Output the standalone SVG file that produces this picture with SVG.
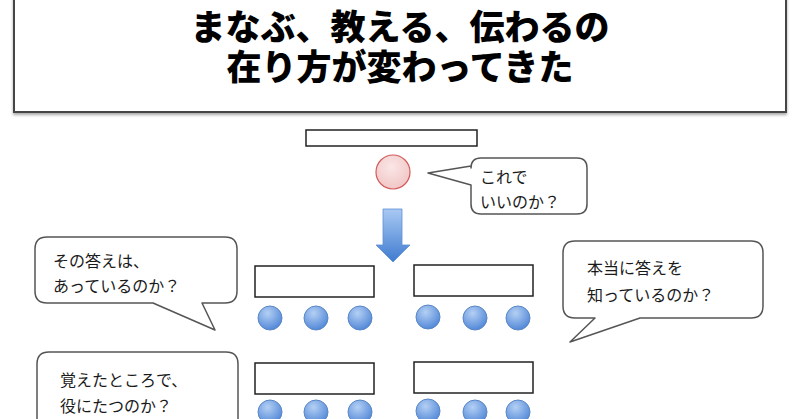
<svg xmlns="http://www.w3.org/2000/svg" width="800" height="419" viewBox="0 0 800 419">
<defs>
<radialGradient id="blueG" cx="0.4" cy="0.3" r="0.75">
<stop offset="0" stop-color="#b4d0f4"/>
<stop offset="1" stop-color="#4d84d6"/>
</radialGradient>
<radialGradient id="pinkG" cx="0.45" cy="0.35" r="0.7">
<stop offset="0" stop-color="#fbe6e6"/>
<stop offset="1" stop-color="#f0c4c4"/>
</radialGradient>
<linearGradient id="arrowG" x1="0" y1="0" x2="0" y2="1">
<stop offset="0" stop-color="#a9c9f3"/>
<stop offset="1" stop-color="#3f7bd0"/>
</linearGradient>
<filter id="sh" x="-5%" y="-5%" width="110%" height="120%">
<feGaussianBlur in="SourceAlpha" stdDeviation="1.5"/>
<feOffset dx="0" dy="2" result="b"/>
<feComponentTransfer><feFuncA type="linear" slope="0.35"/></feComponentTransfer>
<feMerge><feMergeNode/><feMergeNode in="SourceGraphic"/></feMerge>
</filter>
</defs>
<style>
.title{font-family:"Liberation Sans","Noto Sans CJK JP",sans-serif;font-weight:900;font-size:35px;fill:#000;text-anchor:middle}
.bt{font-family:"Noto Sans CJK JP","Noto Sans",sans-serif;font-size:16px;fill:#1a1a1a}
.bub{fill:#fff;stroke:#555;stroke-width:1.5;stroke-linejoin:round}
.desk{fill:#fff;stroke:#222;stroke-width:1.5}
.stu{fill:url(#blueG);stroke:#5a86c6;stroke-width:1}
</style>
<rect width="800" height="419" fill="#fff"/>
<g id="title">
<rect x="14" y="-5" width="772" height="117" fill="#fff" stroke="#444" stroke-width="2" filter="url(#sh)"/>
<text class="title"><tspan x="400" y="40">まなぶ、教える、伝わるの</tspan><tspan x="400" y="80">在り方が変わってきた</tspan></text>
</g>
<g id="teacher">
<rect class="desk" x="306" y="130" width="171" height="16"/>
<circle cx="393" cy="172" r="17" fill="url(#pinkG)" stroke="#d35a5a" stroke-width="1.2"/>
</g>
<g id="bubble-top">
<path class="bub" d="M481,158 H577 Q587,158 587,168 V204 Q587,214 577,214 H481 Q471,214 471,204 V185 L428,173 L471,166 V168 Q471,158 481,158 Z"/>
<text class="bt"><tspan x="480" y="183">これで</tspan><tspan x="480" y="208">いいのか？</tspan></text>
</g>
<g id="connectors">
<path d="M383,209 H402 V245 H410 L393,262 L376,245 H383 Z" fill="url(#arrowG)" stroke="#5d8fd4" stroke-width="0.8"/>
</g>
<g id="bubble-left">
<path class="bub" d="M47,237 H225 Q237,237 237,249 V291 Q237,303 225,303 H202 L215,330 L153,303 H47 Q35,303 35,291 V249 Q35,237 47,237 Z"/>
<text class="bt"><tspan x="53" y="267">その答えは、</tspan><tspan x="53" y="292">あっているのか？</tspan></text>
</g>
<g id="bubble-right">
<path class="bub" d="M575,241 H751 Q763,241 763,253 V306 Q763,318 751,318 H640 L570,342 L595,318 H575 Q563,318 563,306 V253 Q563,241 575,241 Z"/>
<text class="bt"><tspan x="587" y="274">本当に答えを</tspan><tspan x="587" y="301">知っているのか？</tspan></text>
</g>
<g id="bubble-bottom">
<path class="bub" d="M37,430 V364 Q37,352 49,352 H226 Q238,352 238,364 V430"/>
<text class="bt"><tspan x="60" y="386">覚えたところで、</tspan><tspan x="60" y="412">役にたつのか？</tspan></text>
</g>
<g id="group-1">
<rect class="desk" x="255" y="266" width="119" height="31"/>
<circle class="stu" cx="270" cy="318" r="12"/>
<circle class="stu" cx="316" cy="318" r="12"/>
<circle class="stu" cx="360" cy="318" r="12"/>
</g>
<g id="group-2">
<rect class="desk" x="414" y="265" width="119" height="31"/>
<circle class="stu" cx="428" cy="317" r="12"/>
<circle class="stu" cx="475" cy="318" r="12"/>
<circle class="stu" cx="518" cy="318" r="12"/>
</g>
<g id="group-3">
<rect class="desk" x="255" y="363" width="119" height="31"/>
<circle class="stu" cx="270" cy="412" r="12"/>
<circle class="stu" cx="316" cy="412" r="12"/>
<circle class="stu" cx="360" cy="412" r="12"/>
</g>
<g id="group-4">
<rect class="desk" x="414" y="362" width="119" height="31"/>
<circle class="stu" cx="428" cy="411" r="12"/>
<circle class="stu" cx="475" cy="412" r="12"/>
<circle class="stu" cx="518" cy="412" r="12"/>
</g>
</svg>
